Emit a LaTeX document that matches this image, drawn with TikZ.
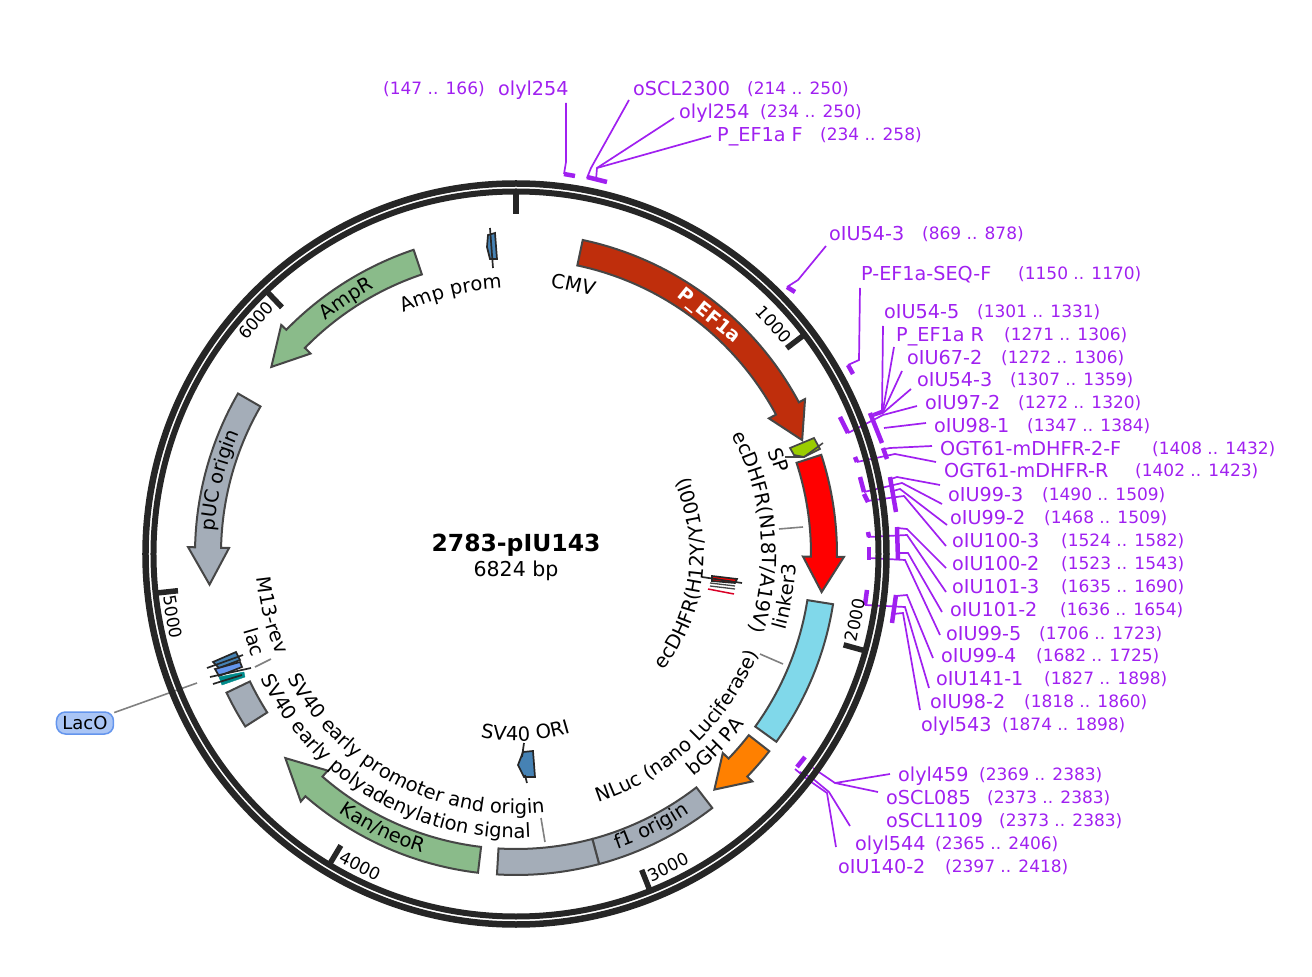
\documentclass[tikz,border=0pt]{standalone}
\usepackage{fontspec}
\setmainfont{DejaVu Sans}
\usetikzlibrary{decorations.text}
\definecolor{oligo}{RGB}{160,32,240}
\definecolor{ringdark}{RGB}{38,38,38}
\definecolor{edgegray}{RGB}{70,70,70}
\definecolor{cmvred}{RGB}{191,46,12}
\definecolor{markgreen}{RGB}{138,187,138}
\definecolor{origray}{RGB}{164,173,184}
\definecolor{nlucblue}{RGB}{128,216,234}
\definecolor{prom}{RGB}{70,130,180}
\definecolor{lacblue}{RGB}{100,149,237}
\definecolor{lacoteal}{RGB}{0,139,139}
\definecolor{spgreen}{RGB}{154,205,0}
\newcommand{\labfont}{\fontsize{19.5}{22}\selectfont}

% arrow feature on the track: colour, start, shoulder, tip (clock degrees)
\newcommand{\featarrow}[4]{%
    \draw[feat, fill=#1] ({90-(#2)}:321) arc[start angle={90-(#2)}, end angle={90-(#3)}, radius=321]
        -- ({90-(#3)}:328) -- ({90-(#4)}:308) -- ({90-(#3)}:287) -- ({90-(#3)}:295)
        arc[start angle={90-(#3)}, end angle={90-(#2)}, radius=295] -- cycle;}
% plain block on the track: colour, start, end
\newcommand{\featblock}[3]{%
    \draw[feat, fill=#1] ({90-(#2)}:321) arc[start angle={90-(#2)}, end angle={90-(#3)}, radius=321]
        -- ({90-(#3)}:295) arc[start angle={90-(#3)}, end angle={90-(#2)}, radius=295] -- cycle;}
% curved labels: middle, half span, baseline radius, text
\newcommand{\labcw}[4]{%
    \path[decorate, decoration={text along path, text={|\labfont|#4}, text align=center}]
        ({90-(#1)+#2}:#3) arc[start angle={90-(#1)+#2}, end angle={90-(#1)-#2}, radius=#3];}
\newcommand{\labccw}[4]{%
    \path[decorate, decoration={text along path, text={|\labfont|#4}, text align=center}]
        ({90-(#1)-#2}:#3) arc[start angle={90-(#1)-#2}, end angle={90-(#1)+#2}, radius=#3];}
% oligo label: id, name, range, x of name, x of range, y
\newcommand{\oligo}[6]{%
    \node[oname] (#1) at (#4,#6) {#2};
    \node[orange] (#1r) at (#5,#6) {#3};}
% oligo leader: id, free end, rest of the path
\newcommand{\leader}[3]{%
    \coordinate (#1s) at #2;
    \draw[oline] (#1s) -- #3;}

\begin{document}
\begin{tikzpicture}[x=1pt, y=1pt,
    feat/.style={draw=edgegray, line width=2pt, line join=miter},
    oname/.style={font=\fontsize{19.2}{22}\selectfont, text=oligo, anchor=base west, inner sep=0pt, yshift=-8pt},
    orange/.style={font=\fontsize{17}{20}\selectfont, text=oligo, anchor=base west, inner sep=0pt, yshift=-7pt},
    oline/.style={draw=oligo, line width=1.7pt},
    obar/.style={draw=oligo, line width=4.5pt},
    thinline/.style={draw=gray, line width=1.6pt},
    barb/.style={draw=ringdark, line width=1.7pt},
    tick/.style={draw=ringdark, line width=5.5pt},
    ticklab/.style={font=\fontsize{17}{20}\selectfont, inner sep=0pt}]
    \useasboundingbox (-516,-423) rectangle (796,554);

    % Oligos, in image pixels
    \begin{scope}[y=-1pt, shift={(-516,-554)}]
        % top group
        \oligo{o1}{olyl254}{(147 .. 166)}{498}{383}{88}
        \oligo{o2}{oSCL2300}{(214 .. 250)}{633}{747}{88}
        \oligo{o3}{olyl254}{(234 .. 250)}{679}{760}{111}
        \oligo{o4}{P\_EF1a F}{(234 .. 258)}{717}{820}{134}
        \oligo{o5}{oIU54-3}{(869 .. 878)}{829}{922}{233}
        \oligo{o6}{P-EF1a-SEQ-F}{(1150 .. 1170)}{861}{1018}{273}
        % right column
        \oligo{o7}{oIU54-5}{(1301 .. 1331)}{884}{977}{311}
        \oligo{o8}{P\_EF1a R}{(1271 .. 1306)}{896}{1004}{334}
        \oligo{o9}{oIU67-2}{(1272 .. 1306)}{907}{1001}{357}
        \oligo{o10}{oIU54-3}{(1307 .. 1359)}{917}{1010}{379}
        \oligo{o11}{oIU97-2}{(1272 .. 1320)}{925}{1018}{402}
        \oligo{o12}{oIU98-1}{(1347 .. 1384)}{934}{1027}{425}
        \oligo{o13}{OGT61-mDHFR-2-F}{(1408 .. 1432)}{940}{1152}{448}
        \oligo{o14}{OGT61-mDHFR-R}{(1402 .. 1423)}{944}{1135}{470}
        \oligo{o15}{oIU99-3}{(1490 .. 1509)}{948}{1042}{494}
        \oligo{o16}{oIU99-2}{(1468 .. 1509)}{950}{1044}{517}
        \oligo{o17}{oIU100-3}{(1524 .. 1582)}{952}{1061}{540}
        \oligo{o18}{oIU100-2}{(1523 .. 1543)}{952}{1061}{563}
        \oligo{o19}{oIU101-3}{(1635 .. 1690)}{952}{1061}{586}
        \oligo{o20}{oIU101-2}{(1636 .. 1654)}{950}{1060}{609}
        \oligo{o21}{oIU99-5}{(1706 .. 1723)}{946}{1039}{632}
        \oligo{o22}{oIU99-4}{(1682 .. 1725)}{941}{1036}{654}
        \oligo{o23}{oIU141-1}{(1827 .. 1898)}{936}{1044}{677}
        \oligo{o24}{oIU98-2}{(1818 .. 1860)}{930}{1024}{700}
        \oligo{o25}{olyl543}{(1874 .. 1898)}{921}{1002}{723}
        % bottom group
        \oligo{o26}{olyl459}{(2369 .. 2383)}{898}{979}{773}
        \oligo{o27}{oSCL085}{(2373 .. 2383)}{886}{987}{796}
        \oligo{o28}{oSCL1109}{(2373 .. 2383)}{886}{999}{819}
        \oligo{o29}{olyl544}{(2365 .. 2406)}{855}{935}{842}
        \oligo{o30}{oIU140-2}{(2397 .. 2418)}{838}{945}{865}

        % leaders
        \leader{o1}{(566,103)}{(566,162) -- (564,174)}
        \leader{o2}{(629,100)}{(591,168) -- (587,178)}
        \leader{o3}{(674,118)}{(597,168) -- (596,180)}
        \leader{o4}{(711,136)}{(597,168)}
        \leader{o5}{(826,246)}{(798,280) -- (787,287)}
        \leader{o6}{(860,288)}{(859,360) -- (848,365)}
        \leader{o7}{(883,326)}{(882,412) -- (873,414)}
        \leader{o8}{(894,347)}{(883,410) -- (873,414)}
        \leader{o9}{(902,371)}{(883,412) -- (873,416)}
        \leader{o10}{(911,389)}{(883,413) -- (873,416)}
        \leader{o11}{(917,406)}{(883,415) -- (848,433)}
        \leader{o12}{(926,423)}{(884,428)}
        \leader{o13}{(932,446)}{(890,448) -- (885,449)}
        \leader{o14}{(936,462)}{(895,454) -- (857,462)}
        \leader{o15}{(940,485)}{(897,477) -- (891,479)}
        \leader{o16}{(942,504)}{(902,483) -- (864,492)}
        \leader{o17}{(947,525)}{(900,489) -- (893,491)}
        \leader{o18}{(946,546)}{(904,496) -- (867,501)}
        \leader{o19}{(946,568)}{(907,529) -- (897,528)}
        \leader{o20}{(946,592)}{(907,535) -- (868,537)}
        \leader{o21}{(942,612)}{(908,553) -- (897,553)}
        \leader{o22}{(940,635)}{(905,560) -- (869,558)}
        \leader{o23}{(933,658)}{(907,595) -- (896,596)}
        \leader{o24}{(929,688)}{(905,607) -- (865,605)}
        \leader{o25}{(920,710)}{(903,613) -- (893,614)}
        \leader{o26}{(890,774)}{(835,783) -- (813,768)}
        \leader{o27}{(878,792)}{(835,783)}
        \leader{o29}{(850,826)}{(829,792) -- (812,778) -- (800,772)}
        \leader{o30}{(836,847)}{(827,793) -- (807,779) -- (795,769)}

        % bars
        \draw[obar] (564,174) -- (575,176);
        \draw[obar] (587,177) -- (607,182);
        \draw[obar] (787,287) -- (795,292);
        \draw[obar] (848,365) -- (853,374);
        \draw[obar] (870,413) -- (882,443);
        \draw[obar] (840,417) -- (848,433);
        \draw[obar] (883,448) -- (887,459);
        \draw[obar] (855,457) -- (857,462);
        \draw[obar] (890,477) -- (896,512);
        \draw[obar] (860,477) -- (864,492);
        \draw[obar] (864,494) -- (868,502);
        \draw[obar] (897,527) -- (898,560);
        \draw[obar] (868,532) -- (869,537);
        \draw[obar] (869,547) -- (869,560);
        \draw[obar] (896,595) -- (892,623);
        \draw[obar] (867,590) -- (865,605);
        \draw[obar] (797,767) -- (805,757);

        % LacO tag and its line
        \node[draw=lacblue, line width=1.5pt, fill=lacblue!55, rounded corners=9pt, minimum width=57pt, minimum height=22pt, inner sep=0pt, font=\fontsize{18}{22}\selectfont] (laco) at (85,723) {LacO};
        \coordinate (lacoend) at (197,683);
        \draw[thinline] (laco) -- (lacoend);
    \end{scope}

    % Backbone
    \draw[draw=ringdark, line width=6.5pt] (0,0) circle (370.5);
    \draw[draw=ringdark, line width=6pt] (0,0) circle (362.5);

    % Ticks and their numbers
    \foreach \a in {0, 52.75, 105.5, 158.3, 211, 263.8, 316.5} {
        \draw[tick] ({90-\a}:361) -- ({90-\a}:340);
    }
    \node[ticklab, rotate=-48] (t1) at (258,230) {1000};
    \node[ticklab, rotate=79] (t2) at (339,-66) {2000};
    \node[ticklab, rotate=26] (t3) at (152,-313) {3000};
    \node[ticklab, rotate=-26.6] (t4) at (-156,-312) {4000};
    \node[ticklab, rotate=-79.6] (t5) at (-343,-63) {5000};
    \node[ticklab, rotate=48] (t6) at (-260,234) {6000};

    % Features
    \featarrow{cmvred}{12}{61.8}{68.3}
    \featarrow{red}{72}{90.5}{97.1}
    \featblock{nlucblue}{99}{125.8}
    \featarrow{orange}{127.9}{133.9}{139.9}
    \featblock{origray}{142.3}{165}
    \featblock{origray}{165}{183.4}
    \featarrow{markgreen}{186.8}{221}{228.5}
    \featblock{origray}{237.5}{244.4}
    \featarrow{origray}{-60}{-88.8}{-95.7}
    \featarrow{markgreen}{-18.6}{-45.7}{-52.6}

    % Small features, in image pixels
    \begin{scope}[y=-1pt, shift={(-516,-554)}]
        % signal peptide
        \draw[barb, fill=spgreen, draw=edgegray] (790,448) -- (814,438) -- (820,449) -- (804,457) -- (794,455) -- cycle;
        \draw[draw=edgegray, line width=1.6pt] (785,457) -- (804,457) -- (823,443);
        % Amp prom
        \draw[barb, fill=prom] (488,235) -- (495,233) -- (497,259) -- (490,259) -- (487,247) -- cycle;
        \draw[barb] (490,228) -- (493,268);
        % SV40 ORI
        \draw[barb, fill=prom] (518,765) -- (523,752) -- (533,751) -- (535,777) -- (524,777) -- cycle;
        \draw[barb] (524,743) -- (522,757);
        \draw[barb] (527,783) -- (525,775);
        % ecDHFR mutations
        \draw[barb, fill=red] (712,576) -- (737,579) -- (735,583) -- (712,581) -- cycle;
        \draw[barb] (702,577) -- (742,583);
        \draw[draw=edgegray, line width=1.3pt] (710,583) -- (735,586);
        \draw[draw=edgegray, line width=1.3pt] (710,586) -- (735,589);
        \draw[draw=red!85!blue, line width=1.5pt] (708,589) -- (734,594);
        % M13-rev, lac, LacO
        \draw[barb, fill=prom] (213,662) -- (236,652) -- (240,660) -- (219,668) -- cycle;
        \draw[barb] (207,668) -- (243,655);
        \draw[barb, fill=lacblue] (215,669) -- (240,662) -- (242,667) -- (219,676) -- cycle;
        \draw[barb] (210,677) -- (251,668);
        \draw[draw=lacoteal, fill=lacoteal] (219,677) -- (244,672) -- (245,677) -- (222,685) -- cycle;
        \draw[barb] (213,684) -- (242,675);
        % thin lines from labels
        \draw[thinline] (779,529) -- (803,527);
        \draw[thinline] (760,654) -- (783,664);
        \draw[thinline] (541,818) -- (545,842);
        \draw[thinline] (255,667) -- (271,659);
    \end{scope}

    % Feature labels
    \node[font=\bfseries\fontsize{19}{22}\selectfont, text=white, rotate=-39, inner sep=0pt] (pef) at (51:306) {P\_EF1a};
    \labcw{-76}{15}{302}{pUC origin}
    \labcw{-33.6}{10}{301}{AmpR}
    \labccw{205.9}{14}{313}{Kan/neoR}
    \labccw{153.6}{12}{312}{f1 origin}
    \labcw{12}{12}{269}{CMV}
    \labcw{-14}{15}{266}{Amp prom}
    \labcw{70.3}{8}{272}{SP}
    \labcw{84.7}{32}{246}{ecDHFR(N18T/A19V)}
    \labccw{99}{10}{280}{linker3}
    \labccw{97}{45}{188}{ecDHFR(H12Y/Y100I)}
    \labccw{137}{32}{262}{NLuc (nano Luciferase)}
    \labccw{134}{15}{285}{bGH PA}
    \labccw{177}{20}{187}{SV40 ORI}
    \labccw{207.5}{40}{260}{SV40 early promoter and origin}
    \labccw{210.5}{42}{284}{SV40 early polyadenylation signal}
    \labccw{256}{15}{260}{M13-rev}
    \labccw{251.4}{6}{283}{lac}

    % Name in the middle
    \node[font=\bfseries\fontsize{23.5}{26}\selectfont, inner sep=0pt] (plasmid) at (0,8.5) {2783-pIU143};
    \node[font=\fontsize{20.5}{24}\selectfont, inner sep=0pt] (length) at (0,-17) {6824 bp};
\end{tikzpicture}
\end{document}
